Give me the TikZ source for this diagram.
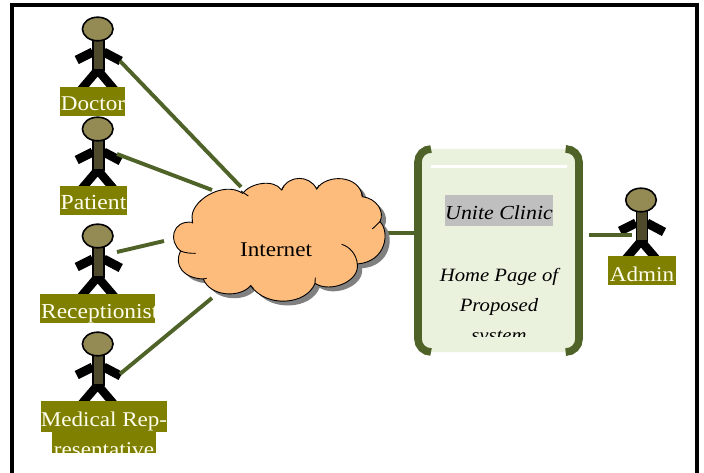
\documentclass[tikz,border=0pt]{standalone}
\usepackage{fontspec}
\newfontfamily\pfont[FakeStretch=1.1]{Liberation Serif}
\definecolor{linkgreen}{HTML}{4F6228}
\definecolor{labelolive}{HTML}{808000}
\definecolor{headolive}{HTML}{948A54}
\definecolor{bodydark}{HTML}{4F4A2B}
\definecolor{boxfill}{HTML}{EAF1DD}
\definecolor{cloudfill}{HTML}{FEBC7C}
\definecolor{labeltext}{HTML}{FFFFF0}
\tikzset{
  link/.style={draw=linkgreen,line width=3.9pt},
  bodytext/.style={font=\pfont\fontsize{21}{24}\selectfont,anchor=base,inner sep=0pt},
  labeltxt/.style={bodytext,text=labeltext},
  boxtxt/.style={bodytext,font=\pfont\itshape\fontsize{18.8}{24}\selectfont,text=black},
  labelbg/.style={fill=labelolive,draw=none},
}
\newcommand{\actorfig}[2]{%
  \begin{scope}[shift={(#1,#2)}]
    \draw[line width=8.5pt] (-17,61) -- (0,41) -- (17,61);
    \draw[line width=9pt] (-21,31) -- (-5,23);
    \draw[line width=9pt] (23,32) -- (6,23);
    \draw[fill=bodydark,line width=1.5pt] (-4.5,10) rectangle (6.3,41);
    \draw[fill=headolive,line width=1.6pt] (0,0) ellipse [x radius=15.3,y radius=11.8];
  \end{scope}}
\newcommand{\cloudpath}{%
  (97,165) .. controls (85,110) and (190,45) .. (248,85)
  .. controls (270,55) and (340,40) .. (365,75)
  .. controls (385,28) and (450,30) .. (470,72)
  .. controls (500,25) and (600,30) .. (607,95)
  .. controls (650,100) and (675,140) .. (660,170)
  .. controls (690,200) and (680,290) .. (592,297)
  .. controls (600,350) and (510,385) .. (465,355)
  .. controls (440,420) and (320,430) .. (272,362)
  .. controls (240,400) and (150,395) .. (130,342)
  .. controls (70,340) and (40,300) .. (62,258)
  .. controls (25,230) and (35,165) .. (97,172) -- cycle}
\begin{document}
\begin{tikzpicture}[x=1pt,y=-1pt]
\useasboundingbox (0,0) rectangle (704,473);
\fill[white] (0,0) rectangle (704,473);
\draw[line width=4pt] (12,473) -- (12,5) -- (697,5) -- (697,473);

% actors
\actorfig{97.7}{29}
\actorfig{97.7}{129}
\actorfig{97.7}{236}
\actorfig{97.7}{344}
\actorfig{641}{200}

% anchors of the connectors
\coordinate (doctorhand) at (120,61);
\coordinate (patienthand) at (117,154);
\coordinate (receptionhand) at (117,252);
\coordinate (medhand) at (120,374);
\coordinate (adminhand) at (632,235);
\coordinate (clouddoctor) at (241,187);
\coordinate (cloudpatient) at (212,190);
\coordinate (cloudreception) at (164,241);
\coordinate (cloudmed) at (212,298);
\coordinate (cloudright) at (386,233);
\coordinate (boxleft) at (416,233);
\coordinate (boxright) at (589,235);

% connectors
\draw[link] (doctorhand) -- (clouddoctor);
\draw[link] (patienthand) -- (cloudpatient);
\draw[link] (receptionhand) -- (cloudreception);
\draw[link] (medhand) -- (cloudmed);
\draw[link] (cloudright) -- (boxleft);
\draw[link] (boxright) -- (adminhand);

% cloud
\begin{scope}[shift={(160,165)},x=0.3333pt,y=-0.3333pt]
  \begin{scope}[shift={(14,13)}]
    \fill[black!50] \cloudpath;
  \end{scope}
  \draw[fill=cloudfill,line width=0.9pt] \cloudpath;
  \draw[line width=0.9pt] (243,78) -- (265,93);
  \draw[line width=0.9pt] (660,170) -- (637,192);
  \draw[line width=0.9pt] (62,258) .. controls (75,264) and (90,265) .. (107,265);
  \draw[line width=0.9pt] (97,165) -- (98,175);
  \draw[line width=0.9pt] (545,238) .. controls (570,245) and (590,270) .. (592,297);
  \draw[line width=0.9pt] (465,355) -- (466,338);
  \draw[line width=0.9pt] (365,75) -- (372,62);
  \draw[line width=0.9pt] (470,72) -- (478,60);
  \draw[line width=0.9pt] (607,95) -- (605,80);
  \draw[line width=0.9pt] (130,342) -- (140,340);
  \draw[line width=0.9pt] (272,362) -- (280,370);
\end{scope}
\node[bodytext,text=black] (internet) at (276,256) {Internet};

% page box
\fill[boxfill,rounded corners=13pt] (418,149) rectangle (579,352);
\draw[white,line width=3pt] (431,167) -- (567,167);
\draw[linkgreen,line width=7.6pt,rounded corners=13pt] (431,149) -- (418,149) -- (418,352) -- (431,352);
\draw[linkgreen,line width=7.6pt,rounded corners=13pt] (567,149) -- (579,149) -- (579,352) -- (567,352);
\fill[black!25] (445,195) rectangle (553,226);
\node[boxtxt,font=\pfont\itshape\fontsize{19.9}{24}\selectfont] (unite) at (499,219) {Unite Clinic};
\node[boxtxt] (home) at (499,281) {Home Page of};
\node[boxtxt] (proposed) at (499,311) {Proposed};
\begin{scope}
  \clip (431,320) rectangle (567,336);
  \node[boxtxt] (system) at (499,341) {system};
\end{scope}

% labels
\fill[labelbg] (60,87) rectangle (125,116);
\fill[labelbg] (60,186) rectangle (127,215);
\fill[labelbg] (40,294) rectangle (155,323);
\fill[labelbg] (41,401) rectangle (167,432);
\fill[labelbg] (52,432) rectangle (156,453);
\fill[labelbg] (608,256) rectangle (676,285);
\begin{scope}
  \clip (60,87) rectangle (125,116);
  \node[labeltxt] (doctor) at (93,111) {Doctor};
\end{scope}
\begin{scope}
  \clip (60,186) rectangle (127,215);
  \node[labeltxt,font=\pfont\fontsize{21.5}{24}\selectfont] (patient) at (93.5,210) {Patient};
\end{scope}
\begin{scope}
  \clip (40,294) rectangle (155,323);
  \node[labeltxt,anchor=base west,font=\pfont\fontsize{21.3}{24}\selectfont] (reception) at (41,318) {Receptionist};
\end{scope}
\node[labeltxt] (medical) at (104,426) {Medical Rep-};
\begin{scope}
  \clip (52,432) rectangle (156,453);
  \node[labeltxt] (representative) at (104,456) {resentative};
\end{scope}
\node[labeltxt] (admin) at (642,281) {Admin};
\end{tikzpicture}
\end{document}
